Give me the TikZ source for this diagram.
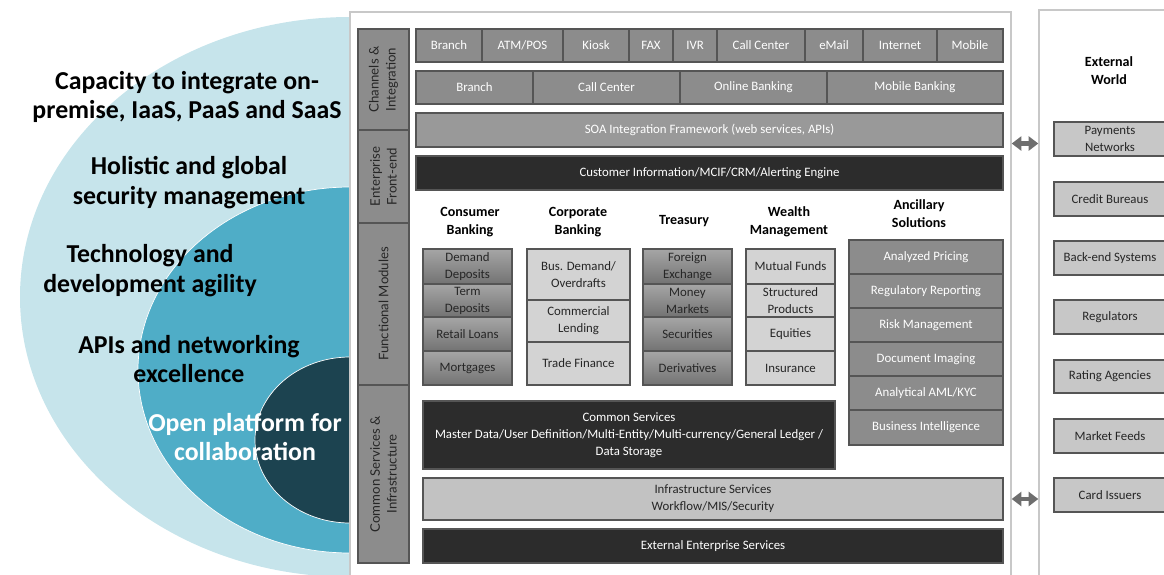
\documentclass[tikz,border=0pt]{standalone}
\usepackage{fontspec}
\setmainfont{Carlito}
\newfontfamily\sidefont{Lato}
\usetikzlibrary{arrows.meta}

\definecolor{outerblue}{HTML}{C6E4EB}
\definecolor{midblue}{HTML}{4FADC7}
\definecolor{innerblue}{HTML}{1C4350}
\definecolor{framegray}{HTML}{C8C8C8}
\definecolor{edgegray}{HTML}{555555}
\definecolor{midgray}{HTML}{8C8C8C}
\definecolor{lightgray}{HTML}{D3D3D3}
\definecolor{palegray}{HTML}{C2C2C2}
\definecolor{darkgray}{HTML}{2C2C2C}
\definecolor{inkgray}{HTML}{262626}
\definecolor{arrowgray}{HTML}{6E6E6E}

\tikzset{
  boxsize/.style 2 args={minimum width=#1*0.02cm, minimum height=#2*0.02cm},
  cell/.style={draw=edgegray, line width=0.6pt, inner sep=0pt, align=center, font=\fontsize{7.3}{9.6}\selectfont},
  greycell/.style={cell, fill=midgray, text=white},
  darkcell/.style={cell, fill=darkgray, text=white},
  palecell/.style={cell, fill=lightgray, text=inkgray},
  shadecell/.style={cell, top color=black!35, bottom color=black!55, text=inkgray},
  sidebar/.style={cell, fill=black!45, rotate=90, text=inkgray, font=\sidefont\fontsize{7.5}{9.6}\selectfont},
  heading/.style={align=center, font=\bfseries\fontsize{8}{10.2}\selectfont},
  claim/.style={align=center, font=\bfseries\fontsize{14.7}{17}\selectfont},
  outbox/.style={cell, fill=black!22, text=inkgray},
  panel/.style={draw=framegray, fill=white, line width=0.8pt, inner sep=0pt},
  link/.style={{Triangle[length=5.5pt,width=8pt]}-{Triangle[length=5.5pt,width=8pt]}, line width=2.6pt, draw=arrowgray}
}

\begin{document}
\begin{tikzpicture}[x=0.02cm,y=-0.02cm]
  \useasboundingbox (0,0) rectangle (1164,575);

  % nested ellipses on the left
  \begin{scope}
    \clip (0,0) rectangle (350,575);
    \fill[outerblue] (350,297) ellipse [x radius=330, y radius=280];
    \draw[white, fill=midblue] (350,370) ellipse [x radius=212, y radius=183];
    \draw[white, fill=innerblue] (350,440) ellipse [x radius=95, y radius=83];
  \end{scope}
  \node[claim] (capacity) at (187,97) {Capacity to integrate on-\\premise, IaaS, PaaS and SaaS};
  \node[claim] (security) at (189,183) {Holistic and global\\security management};
  \node[claim] (agility) at (150,271) {Technology and\\development agility};
  \node[claim] (apis) at (189,359) {APIs and networking\\excellence};
  \node[claim, text=white] (openness) at (245,437) {Open platform for\\collaboration};

  % the two panels
  \node[panel, boxsize={661}{578}] (platform) at (680.5,301) {};
  \node[panel, boxsize={141}{580}] (outside) at (1109.5,300) {};

  % layer labels (rotated, so width is the height)
  \node[sidebar, boxsize={101}{51}] (chanbar) at (383.5,79.5) {Channels \&\\Integration};
  \node[sidebar, boxsize={93}{51}] (frontbar) at (383.5,176.5) {Enterprise\\Front-end};
  \node[sidebar, boxsize={162}{51}] (funcbar) at (383.5,304) {Functional Modules};
  \node[sidebar, boxsize={178}{51}] (infrabar) at (383.5,474) {Common Services \&\\Infrastructure};

  % channels
  \node[greycell, boxsize={66}{33}] (branch) at (449,45.5) {Branch};
  \node[greycell, boxsize={81}{33}] (atm) at (522.5,45.5) {ATM/POS};
  \node[greycell, boxsize={66}{33}] (kiosk) at (596,45.5) {Kiosk};
  \node[greycell, boxsize={44}{33}] (fax) at (651,45.5) {FAX};
  \node[greycell, boxsize={44}{33}] (ivr) at (695,45.5) {IVR};
  \node[greycell, boxsize={88}{33}] (callcenter) at (761,45.5) {Call Center};
  \node[greycell, boxsize={58}{33}] (email) at (834,45.5) {eMail};
  \node[greycell, boxsize={74}{33}] (internet) at (900,45.5) {Internet};
  \node[greycell, boxsize={66}{33}] (mobile) at (970,45.5) {Mobile};

  \node[greycell, boxsize={117}{33}] (branchbk) at (474.5,87.5) {Branch};
  \node[greycell, boxsize={147}{33}] (callbk) at (606.5,87.5) {Call Center};
  \node[greycell, boxsize={147}{33}] (onlinebk) at (753.5,87.5) {Online Banking};
  \node[greycell, boxsize={176}{33}] (mobilebk) at (915,87.5) {Mobile Banking};

  \node[greycell, fill=black!40, boxsize={587}{34}] (soa) at (709.5,130) {SOA Integration Framework (web services, APIs)};
  \node[darkcell, boxsize={587}{34}] (cif) at (709.5,173) {Customer Information/MCIF/CRM/Alerting Engine};

  % functional modules
  \node[heading] (consumerhd) at (470,222) {Consumer\\Banking};
  \node[heading] (corporatehd) at (578,222) {Corporate\\Banking};
  \node[heading] (treasuryhd) at (684,221) {Treasury};
  \node[heading] (wealthhd) at (789,222) {Wealth\\Management};
  \node[heading] (ancillaryhd) at (919,214) {Ancillary\\Solutions};

  \node[shadecell, boxsize={89}{35}] (demand) at (467.5,266.5) {Demand\\Deposits};
  \node[shadecell, boxsize={89}{33}] (term) at (467.5,300.5) {Term\\Deposits};
  \node[shadecell, boxsize={89}{34}] (retail) at (467.5,334) {Retail Loans};
  \node[shadecell, boxsize={89}{34}] (mortgage) at (467.5,368) {Mortgages};

  \node[palecell, boxsize={103}{51}] (busdemand) at (578.5,274.5) {Bus. Demand/\\Overdrafts};
  \node[palecell, boxsize={103}{42}] (lending) at (578.5,321) {Commercial\\Lending};
  \node[palecell, boxsize={103}{43}] (trade) at (578.5,363.5) {Trade Finance};

  \node[shadecell, boxsize={89}{35}] (forex) at (687.5,266.5) {Foreign\\Exchange};
  \node[shadecell, boxsize={89}{33}] (money) at (687.5,300.5) {Money\\Markets};
  \node[shadecell, boxsize={89}{34}] (securities) at (687.5,334) {Securities};
  \node[shadecell, boxsize={89}{34}] (derivatives) at (687.5,368) {Derivatives};

  \node[palecell, boxsize={89}{35}] (mutual) at (790.5,266.5) {Mutual Funds};
  \node[palecell, boxsize={89}{33}] (structured) at (790.5,300.5) {Structured\\Products};
  \node[palecell, boxsize={89}{34}] (equities) at (790.5,334) {Equities};
  \node[palecell, boxsize={89}{34}] (insurance) at (790.5,368) {Insurance};

  \node[greycell, boxsize={154}{34}] (pricing) at (926,257) {Analyzed Pricing};
  \node[greycell, boxsize={154}{34}] (reporting) at (926,291) {Regulatory Reporting};
  \node[greycell, boxsize={154}{34}] (risk) at (926,325) {Risk Management};
  \node[greycell, boxsize={154}{34}] (imaging) at (926,359) {Document Imaging};
  \node[greycell, boxsize={154}{34}] (aml) at (926,393) {Analytical AML/KYC};
  \node[greycell, boxsize={154}{35}] (bi) at (926,427.5) {Business Intelligence};

  % common services and infrastructure
  \node[darkcell, boxsize={412}{68}] (common) at (629,435) {Common Services\\Master Data/User Definition/Multi-Entity/Multi-currency/General Ledger /\\Data Storage};
  \node[palecell, fill=palegray, boxsize={580}{42}] (infra) at (713,499) {Infrastructure Services\\Workflow/MIS/Security};
  \node[darkcell, boxsize={580}{34}] (enterprise) at (713,546) {External Enterprise Services};

  % external world
  \node[heading] (externalhd) at (1109,71) {External\\World};
  \node[outbox, boxsize={112}{34}] (payments) at (1110,139) {Payments\\Networks};
  \node[outbox, boxsize={112}{34}] (bureaus) at (1110,199) {Credit Bureaus};
  \node[outbox, boxsize={112}{34}] (backend) at (1110,258) {Back-end Systems};
  \node[outbox, boxsize={112}{34}] (regulators) at (1110,317) {Regulators};
  \node[outbox, boxsize={112}{33}] (rating) at (1110,376.5) {Rating Agencies};
  \node[outbox, boxsize={112}{34}] (feeds) at (1110,436) {Market Feeds};
  \node[outbox, boxsize={112}{34}] (issuers) at (1110,495) {Card Issuers};

  \draw[link] (platform.east |- payments.south west) ++(0,-13) coordinate (linkA) -- (outside.west |- linkA);
  \draw[link] (platform.east |- infra) -- (outside.west |- infra);
\end{tikzpicture}
\end{document}
